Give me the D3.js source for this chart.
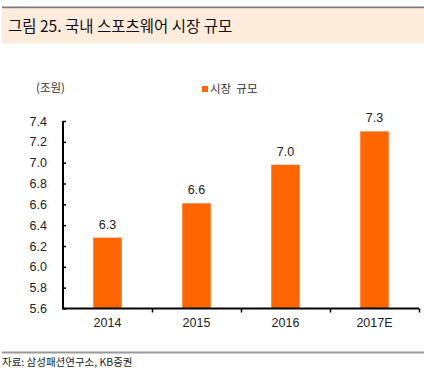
<!DOCTYPE html>
<html><head><meta charset="utf-8">
<script src="https://cdn.jsdelivr.net/npm/d3@7"></script>
<style>body{margin:0;background:#fff;} svg{display:block;font-family:"Noto Sans CJK KR","Noto Sans",sans-serif;}</style>
</head><body>
<script>
const categories = ["2014", "2015", "2016", "2017E"];
const values = [6.28, 6.61, 6.98, 7.30];
const valueLabels = ["6.3", "6.6", "7.0", "7.3"];
const yTicks = [5.6, 5.8, 6.0, 6.2, 6.4, 6.6, 6.8, 7.0, 7.2, 7.4];
const title = "그림 25. 국내 스포츠웨어 시장 규모";
const unit = "(조원)";
const legendLabel = "시장  규모";
const source = "자료: 삼성패션연구소, KB증권";

const W = 424, H = 378;
const svg = d3.select("body").append("svg").attr("width", W).attr("height", H);

// header
svg.append("rect").attr("x", 2).attr("y", 6.5).attr("width", W - 2).attr("height", 2).attr("fill", "#7f7b78");
svg.append("rect").attr("x", 2).attr("y", 8.5).attr("width", W - 2).attr("height", 35).attr("fill", "#fdebdc");
svg.append("text").attr("x", 8).attr("y", 32).attr("font-size", 15.5).attr("fill", "#111").text(title);

const x = d3.scaleBand().domain(categories).range([63, 419]).paddingInner(0.68).paddingOuter(0.34);
const y = d3.scaleLinear().domain([5.6, 7.4]).range([308.5, 121]);

// bars
svg.selectAll("rect.bar").data(values).enter().append("rect")
  .attr("class", "bar")
  .attr("x", (d, i) => x(categories[i]))
  .attr("width", x.bandwidth())
  .attr("y", d => y(d))
  .attr("height", d => y(5.6) - y(d))
  .attr("fill", "#ff6600");

svg.selectAll("text.vl").data(values).enter().append("text")
  .attr("class", "vl")
  .attr("x", (d, i) => x(categories[i]) + x.bandwidth() / 2)
  .attr("y", d => y(d) - 9)
  .attr("text-anchor", "middle")
  .attr("font-family", "Liberation Sans, Arial, sans-serif")
  .attr("font-size", 12.5).attr("fill", "#222")
  .text((d, i) => valueLabels[i]);

// y axis
const yAxis = d3.axisRight(y).tickValues(yTicks).tickSize(3).tickFormat("");
const gy = svg.append("g").attr("transform", "translate(63,0)").call(yAxis);
gy.select(".domain").attr("stroke", "#000").attr("stroke-width", 2).attr("d", `M0,${y(7.4)}V${y(5.6)}`);
gy.selectAll(".tick line").attr("stroke", "#000").attr("stroke-width", 1.5);
svg.selectAll("text.yl").data(yTicks).enter().append("text")
  .attr("class", "yl")
  .attr("x", 47).attr("y", d => y(d) + 4.5)
  .attr("text-anchor", "end")
  .attr("font-family", "Liberation Sans, Arial, sans-serif")
  .attr("font-size", 12.5).attr("fill", "#222")
  .text(d => d.toFixed(1));

// x axis
const xr = d3.scaleLinear().domain([0, 4]).range([63, 419]);
const gx = svg.append("g").attr("transform", `translate(0,${y(5.6)})`)
  .call(d3.axisBottom(xr).tickValues([1, 2, 3, 4]).tickSize(4).tickFormat(""));
gx.select(".domain").attr("stroke", "#000").attr("stroke-width", 2).attr("d", "M62,0H419");
gx.selectAll(".tick line").attr("stroke", "#000").attr("stroke-width", 1.5);
svg.selectAll("text.xl").data(categories).enter().append("text")
  .attr("class", "xl")
  .attr("x", d => x(d) + x.bandwidth() / 2)
  .attr("y", 327)
  .attr("text-anchor", "middle")
  .attr("font-family", "Liberation Sans, Arial, sans-serif")
  .attr("font-size", 12.5).attr("fill", "#222")
  .text(d => d);

// unit & legend
svg.append("text").attr("x", 36).attr("y", 92).attr("font-size", 11.5).attr("fill", "#333").text(unit);
svg.append("rect").attr("x", 202).attr("y", 86).attr("width", 6).attr("height", 6).attr("fill", "#ff6600");
svg.append("text").attr("x", 210).attr("y", 92.5).attr("font-size", 11.5).attr("fill", "#333").attr("xml:space", "preserve").style("white-space", "pre").text(legendLabel);

// footer
svg.append("rect").attr("x", 2).attr("y", 351.5).attr("width", W - 2).attr("height", 2).attr("fill", "#9a9a9a");
svg.append("text").attr("x", 2).attr("y", 366).attr("font-size", 10.5).attr("fill", "#222").text(source);
</script>
</body></html>
